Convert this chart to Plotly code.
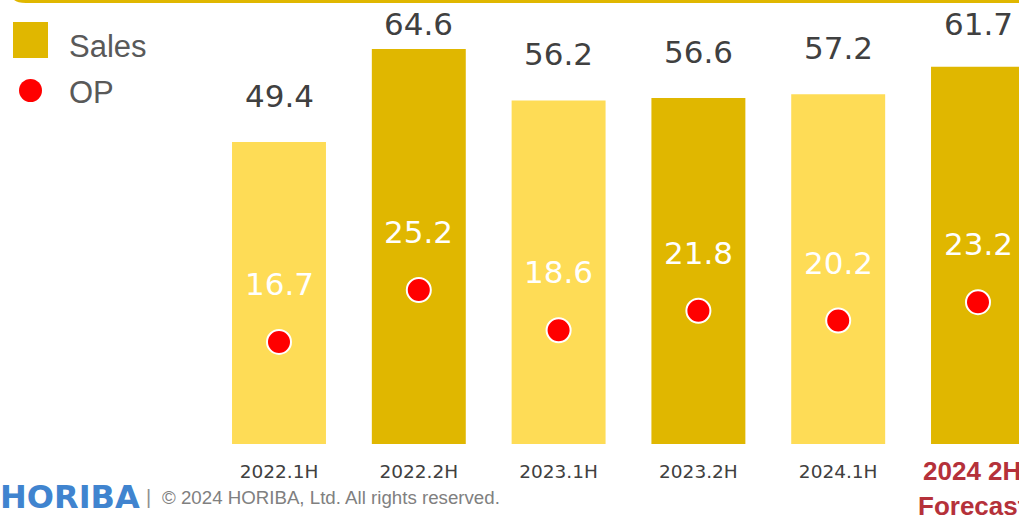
import plotly.graph_objects as go

# ---- data ----
categories = ["2022.1H", "2022.2H", "2023.1H", "2023.2H", "2024.1H", "2024 2H Forecast"]
tick_labels = ["2022.1H", "2022.2H", "2023.1H", "2023.2H", "2024.1H", ""]
forecast_lines = ["2024 2H", "Forecast"]
sales = [49.4, 64.6, 56.2, 56.6, 57.2, 61.7]
op = [16.7, 25.2, 18.6, 21.8, 20.2, 23.2]

# ---- styles ----
LIGHT = "#FEDC56"
DARK = "#E0B700"
bar_colors = [LIGHT, DARK, LIGHT, DARK, LIGHT, DARK]
W, H = 1019, 518
PLOT_H = 444
YMAX = 72.63
PX_PER_UNIT = PLOT_H / YMAX
XRANGE = [-1.9957, 5.2933]


def px(xp):
    return xp / W


def py(yp):
    return 1 - yp / PLOT_H


fig = go.Figure()
fig.add_trace(go.Bar(
    x=list(range(len(categories))), y=sales, width=0.672,
    marker=dict(color=bar_colors, line=dict(width=0)),
    name="Sales", hoverinfo="skip", showlegend=False,
))
fig.add_trace(go.Scatter(
    x=list(range(len(categories))), y=op, mode="markers",
    marker=dict(color="#FF0000", size=24, line=dict(color="white", width=2)),
    name="OP", showlegend=False, cliponaxis=False,
))

ann = []
# sales labels
for i, v in enumerate(sales):
    top = PLOT_H - v * PX_PER_UNIT
    center = max(top - 46, 24)
    ann.append(dict(x=i, y=v, xref="x", yref="y", text=f"{v:.1f}", showarrow=False,
                    yshift=top - center, yanchor="middle",
                    font=dict(family="DejaVu Sans", size=31, color="#404040")))
# OP labels
for i, v in enumerate(op):
    ann.append(dict(x=i, y=v, xref="x", yref="y", text=f"{v:.1f}", showarrow=False,
                    yshift=58, yanchor="middle",
                    font=dict(family="DejaVu Sans", size=31, color="white")))
# forecast category label (two lines)
for line_text, ypix in zip(forecast_lines, [471, 506]):
    ann.append(dict(x=5, y=py(ypix), xref="x", yref="paper", text=f"<b>{line_text}</b>",
                    showarrow=False, xshift=-6, xanchor="center", yanchor="middle",
                    font=dict(family="Liberation Sans", size=26, color="#B5313A")))
# legend text
ann.append(dict(x=px(67), y=py(46), xref="paper", yref="paper", text="Sales", showarrow=False,
                xanchor="left", yanchor="middle",
                font=dict(family="Liberation Sans", size=31, color="#595959")))
ann.append(dict(x=px(67), y=py(92), xref="paper", yref="paper", text="OP", showarrow=False,
                xanchor="left", yanchor="middle",
                font=dict(family="Liberation Sans", size=31, color="#595959")))
# footer
ann.append(dict(x=px(-2), y=py(497), xref="paper", yref="paper", text="<b>HORIBA</b>",
                showarrow=False, xanchor="left", yanchor="middle",
                font=dict(family="DejaVu Sans", size=32, color="#4084CF")))
ann.append(dict(x=px(144), y=py(497), xref="paper", yref="paper", text="|",
                showarrow=False, xanchor="left", yanchor="middle",
                font=dict(family="Liberation Sans", size=20, color="#909090")))
ann.append(dict(x=px(160), y=py(497), xref="paper", yref="paper",
                text="© 2024 HORIBA, Ltd. All rights reserved.",
                showarrow=False, xanchor="left", yanchor="middle",
                font=dict(family="Liberation Sans", size=18.7, color="#808080")))

shapes = [
    # top gold strip
    dict(type="path", xref="paper", yref="paper", layer="above",
         path=(f"M {px(12)},{py(-20)} L {px(12)},{py(-5)} Q {px(12)},{py(3)} {px(26)},{py(3)} "
               f"L {px(1040)},{py(3)} L {px(1040)},{py(-20)} Z"),
         fillcolor=DARK, line=dict(width=0)),
    # legend symbols
    dict(type="rect", xref="paper", yref="paper", x0=px(13), x1=px(48), y0=py(22), y1=py(58),
         fillcolor=DARK, line=dict(width=0)),
    dict(type="circle", xref="paper", yref="paper", x0=px(19), x1=px(42), y0=py(79), y1=py(102),
         fillcolor="#FF0000", line=dict(width=0)),
]

fig.update_layout(
    width=W, height=H,
    margin=dict(l=0, r=0, t=0, b=H - PLOT_H, pad=0),
    paper_bgcolor="white", plot_bgcolor="white",
    showlegend=False,
    annotations=ann, shapes=shapes,
    xaxis=dict(range=XRANGE, tickmode="array", tickvals=list(range(len(categories))),
               ticktext=tick_labels, showgrid=False, zeroline=False, showline=False,
               ticks="", tickfont=dict(family="DejaVu Sans", size=18.5, color="#404040"),
               ticklabelstandoff=14),
    yaxis=dict(range=[0, YMAX], visible=False, showgrid=False, zeroline=False),
)
fig.write_html("out.html", config={"displayModeBar": False},
               post_script="document.body.style.margin='0';document.body.style.overflow='hidden';")
